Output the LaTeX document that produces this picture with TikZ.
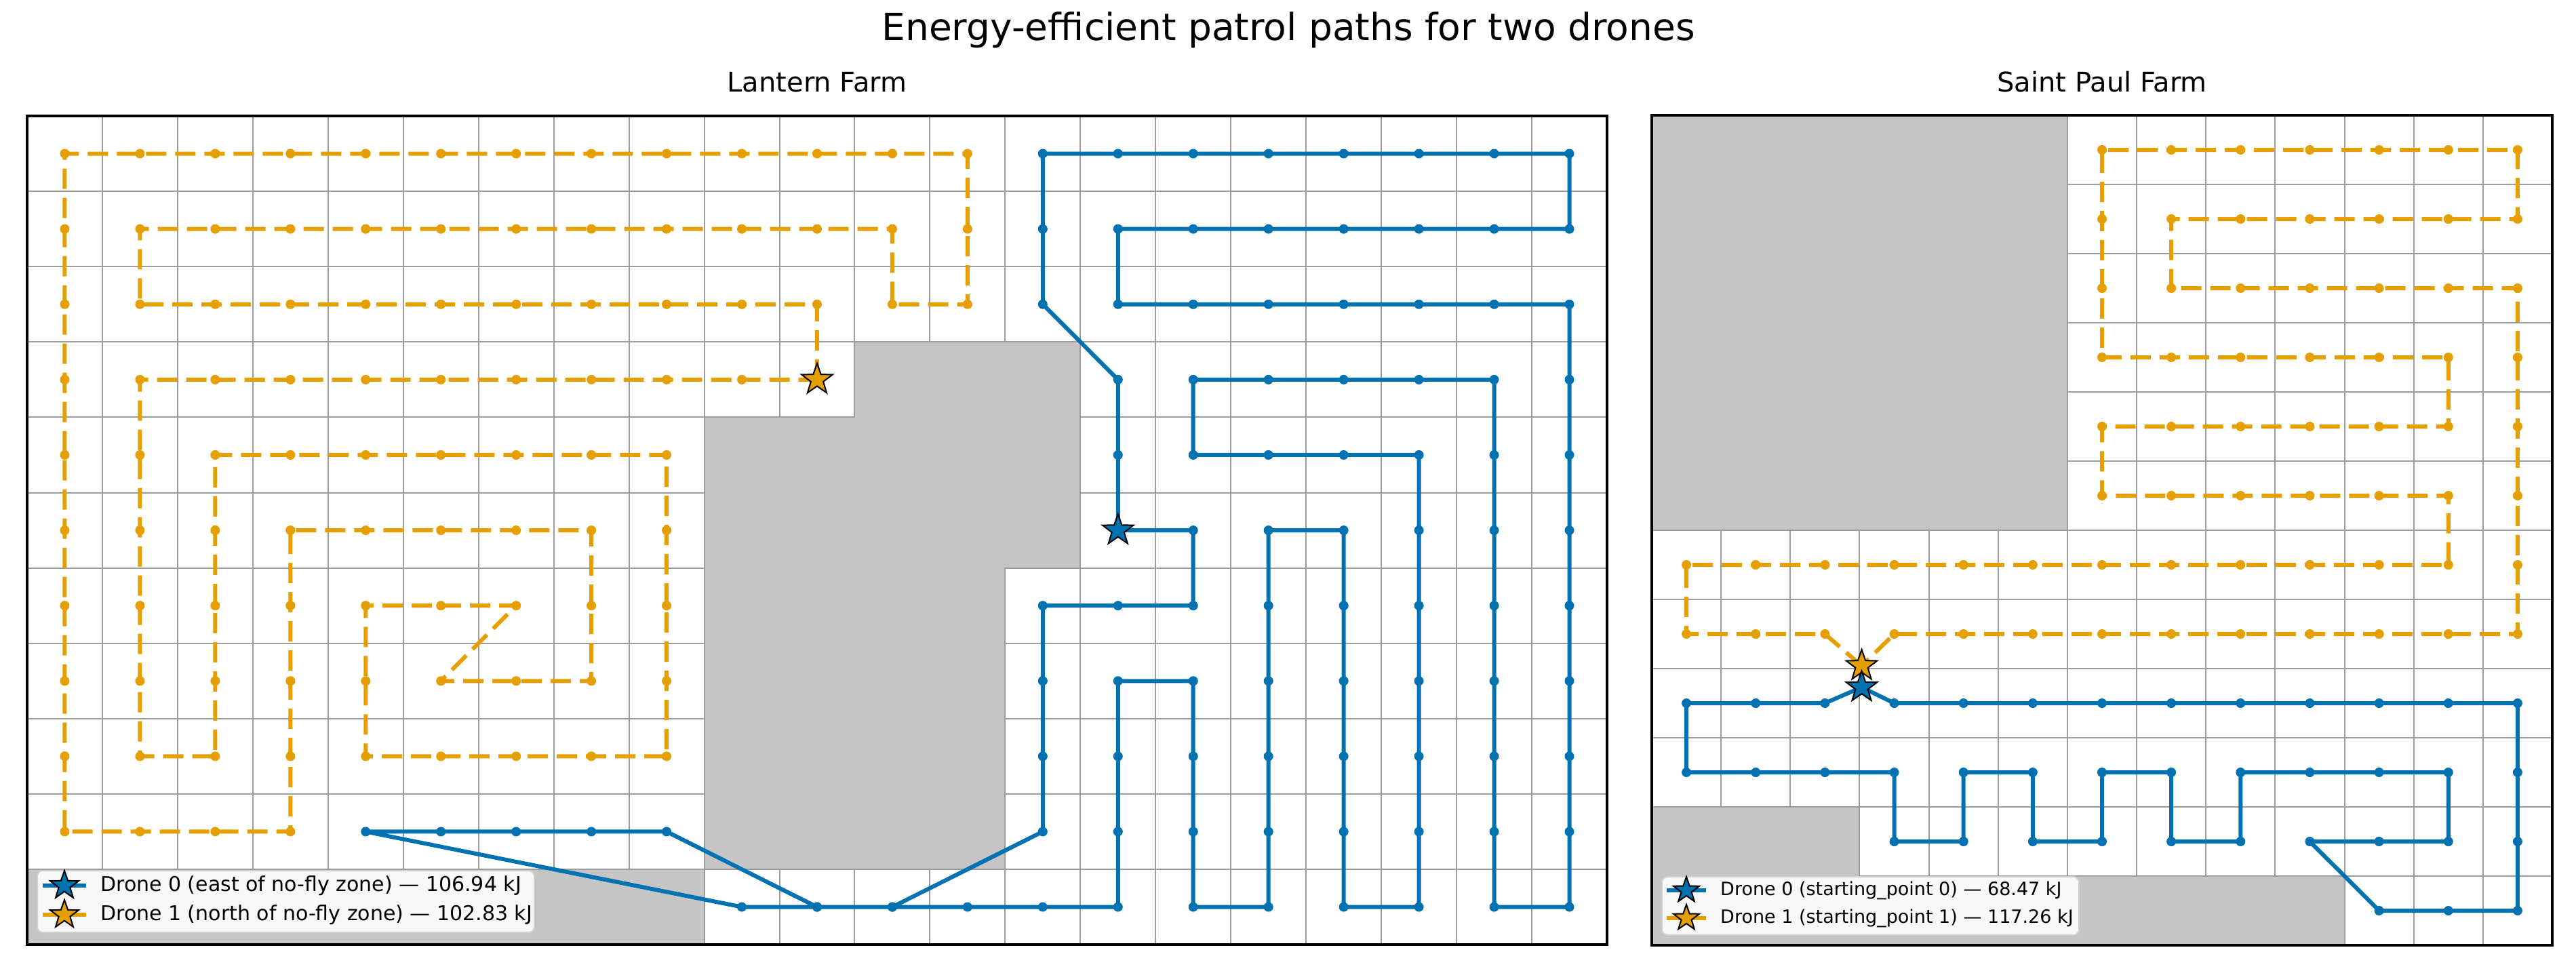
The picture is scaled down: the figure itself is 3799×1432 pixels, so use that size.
\documentclass[tikz,border=0pt]{standalone}
\usepackage{fontspec}
\setmainfont{DejaVu Sans}
\usetikzlibrary{shapes.geometric}
\definecolor{dblue}{HTML}{0072B2}
\definecolor{dorange}{HTML}{E69F00}
\definecolor{nofly}{HTML}{C5C5C5}
\definecolor{gridc}{HTML}{9C9C9C}
\definecolor{legedge}{HTML}{D0D0D0}
\definecolor{legfill}{HTML}{F8F8F8}
\begin{document}
\begin{tikzpicture}[x=1pt,y=-1pt,
  gridl/.style={gridc,line width=2pt},
  frame/.style={black,line width=3.5pt},
  zone/.style={fill=nofly,draw=gridc,line width=2pt},
  path0/.style={dblue,line width=6pt,line join=round},
  path1/.style={dorange,line width=6pt,line join=round,dash pattern=on 30pt off 13pt},
  star0/.style={star,star points=5,star point ratio=2.5,minimum size=48pt,inner sep=0pt,draw=black,line width=2pt,fill=dblue},
  star1/.style={star0,fill=dorange},
  legbox/.style={fill=legfill,draw=legedge,line width=2pt,rounded corners=8pt},
  ttl/.style={font=\fontsize{55}{66}\selectfont},
  sub/.style={font=\fontsize{40}{48}\selectfont},
  legt/.style={anchor=west,inner sep=0pt,font=\fontsize{30}{36}\selectfont},
  legtr/.style={anchor=west,inner sep=0pt,font=\fontsize{27}{32}\selectfont}]
\useasboundingbox (0,0) rectangle (3799,1432);
\fill[white] (0,0) rectangle (3799,1432);
\node[ttl] (title) at (1900,44) {Energy-efficient patrol paths for two drones};
\node[sub] (subl) at (1205,121) {Lantern Farm};
\node[sub] (subr) at (3100,121) {Saint Paul Farm};

% ---------- Left panel ----------
\begin{scope}[shift={(40,171)},x=110.95pt,y=-111.1pt]
  \foreach \i in {0,...,21} \draw[gridl] (\i,0)--(\i,11);
  \foreach \j in {0,...,11} \draw[gridl] (0,\j)--(21,\j);
  \draw[zone] (9,4)--(11,4)--(11,3)--(14,3)--(14,6)--(13,6)--(13,10)--(9,10)--cycle;
  \draw[zone] (0,10) rectangle (9,11);
  \begin{scope}[shift={(0.5,0.5)}]
  \draw[path1] plot[mark=*,mark size=6.5pt,mark options={solid,fill=dorange,draw=dorange,line width=1pt}] coordinates {
   (10,3) (10,2) (9,2) (8,2) (7,2) (6,2) (5,2) (4,2) (3,2) (2,2) (1,2) (1,1) (2,1) (3,1) (4,1) (5,1) (6,1) (7,1) (8,1) (9,1) (10,1) (11,1) (11,2) (12,2) (12,1) (12,0) (11,0) (10,0) (9,0) (8,0) (7,0) (6,0) (5,0) (4,0) (3,0) (2,0) (1,0) (0,0) (0,1) (0,2) (0,3) (0,4) (0,5) (0,6) (0,7) (0,8) (0,9) (1,9) (2,9) (3,9) (3,8) (3,7) (3,6) (3,5) (4,5) (5,5) (6,5) (7,5) (7,6) (7,7) (6,7) (5,7) (6,6) (5,6) (4,6) (4,7) (4,8) (5,8) (6,8) (7,8) (8,8) (8,7) (8,6) (8,5) (8,4) (7,4) (6,4) (5,4) (4,4) (3,4) (2,4) (2,5) (2,6) (2,7) (2,8) (1,8) (1,7) (1,6) (1,5) (1,4) (1,3) (2,3) (3,3) (4,3) (5,3) (6,3) (7,3) (8,3) (9,3) (10,3)};
  \draw[path0] plot[mark=*,mark size=6.5pt,mark options={fill=dblue,draw=dblue,line width=1pt}] coordinates {
   (14,5) (15,5) (15,6) (14,6) (13,6) (13,7) (13,8) (13,9) (11,10) (10,10) (8,9) (7,9) (6,9) (5,9) (4,9) (9,10) (10,10) (11,10) (12,10) (13,10) (14,10) (14,9) (14,8) (14,7) (15,7) (15,8) (15,9) (15,10) (16,10) (16,9) (16,8) (16,7) (16,6) (16,5) (17,5) (17,6) (17,7) (17,8) (17,9) (17,10) (18,10) (18,9) (18,8) (18,7) (18,6) (18,5) (18,4) (17,4) (16,4) (15,4) (15,3) (16,3) (17,3) (18,3) (19,3) (19,4) (19,5) (19,6) (19,7) (19,8) (19,9) (19,10) (20,10) (20,9) (20,8) (20,7) (20,6) (20,5) (20,4) (20,3) (20,2) (19,2) (18,2) (17,2) (16,2) (15,2) (14,2) (14,1) (15,1) (16,1) (17,1) (18,1) (19,1) (20,1) (20,0) (19,0) (18,0) (17,0) (16,0) (15,0) (14,0) (13,0) (13,1) (13,2) (14,3) (14,4) (14,5)};
  \node[star1] (s1l) at (10,3) {};
  \node[star0] (s0l) at (14,5) {};
  \end{scope}
  \draw[frame] (0,0) rectangle (21,11);
\end{scope}
% left legend
\draw[legbox] (55,1284) rectangle (788,1375);
\coordinate (la0) at (63,1306); \coordinate (lb0) at (127,1306);
\coordinate (la1) at (63,1349); \coordinate (lb1) at (127,1349);
\draw[path0] (la0)--(lb0);
\draw[path1,dash pattern=on 22pt off 20pt] (la1)--(lb1);
\node[star0,minimum size=44pt] (lgs0) at (95,1306) {};
\node[star1,minimum size=44pt] (lgs1) at (95,1349) {};
\node[legt] (lgt0) at (148,1306) {Drone 0 (east of no-fly zone) — 106.94 kJ};
\node[legt] (lgt1) at (148,1349) {Drone 1 (north of no-fly zone) — 102.83 kJ};

% ---------- Right panel ----------
\begin{scope}[shift={(2436,170)},x=102.15pt,y=-102pt]
  \foreach \i in {0,...,13} \draw[gridl] (\i,0)--(\i,12);
  \foreach \j in {0,...,12} \draw[gridl] (0,\j)--(13,\j);
  \draw[zone] (0,0) rectangle (6,6);
  \draw[zone] (0,10)--(3,10)--(3,11)--(10,11)--(10,12)--(0,12)--cycle;
  \begin{scope}[shift={(0.5,0.5)}]
  \draw[path1] plot[mark=*,mark size=6.5pt,mark options={solid,fill=dorange,draw=dorange,line width=1pt}] coordinates {
   (2.53,7.46) (2,7) (1,7) (0,7) (0,6) (1,6) (2,6) (3,6) (4,6) (5,6) (6,6) (7,6) (8,6) (9,6) (10,6) (11,6) (11,5) (10,5) (9,5) (8,5) (7,5) (6,5) (6,4) (7,4) (8,4) (9,4) (10,4) (11,4) (11,3) (10,3) (9,3) (8,3) (7,3) (6,3) (6,2) (6,1) (6,0) (7,0) (8,0) (9,0) (10,0) (11,0) (12,0) (12,1) (11,1) (10,1) (9,1) (8,1) (7,1) (7,2) (8,2) (9,2) (10,2) (11,2) (12,2) (12,3) (12,4) (12,5) (12,6) (12,7) (11,7) (10,7) (9,7) (8,7) (7,7) (6,7) (5,7) (4,7) (3,7) (2.53,7.46)};
  \draw[path0] plot[mark=*,mark size=6.5pt,mark options={fill=dblue,draw=dblue,line width=1pt}] coordinates {
   (2.53,7.77) (2,8) (1,8) (0,8) (0,9) (1,9) (2,9) (3,9) (3,10) (4,10) (4,9) (5,9) (5,10) (6,10) (6,9) (7,9) (7,10) (8,10) (8,9) (9,9) (10,9) (11,9) (11,10) (10,10) (9,10) (10,11) (11,11) (12,11) (12,10) (12,9) (12,8) (11,8) (10,8) (9,8) (8,8) (7,8) (6,8) (5,8) (4,8) (3,8) (2.53,7.77)};
  \node[star1] (s1r) at (2.53,7.46) {};
  \node[star0] (s0r) at (2.53,7.77) {};
  \end{scope}
  \draw[frame] (0,0) rectangle (13,12);
\end{scope}
% right legend
\draw[legbox] (2451,1293) rectangle (3066,1379);
\coordinate (ra0) at (2458,1313); \coordinate (rb0) at (2516,1313);
\coordinate (ra1) at (2458,1354); \coordinate (rb1) at (2516,1354);
\draw[path0] (ra0)--(rb0);
\draw[path1,dash pattern=on 20pt off 18pt] (ra1)--(rb1);
\node[star0,minimum size=40pt] (rgs0) at (2487,1313) {};
\node[star1,minimum size=40pt] (rgs1) at (2487,1354) {};
\node[legtr] (rgt0) at (2537,1313) {Drone 0 (starting\_point 0) — 68.47 kJ};
\node[legtr] (rgt1) at (2537,1354) {Drone 1 (starting\_point 1) — 117.26 kJ};
\end{tikzpicture}
\end{document}
